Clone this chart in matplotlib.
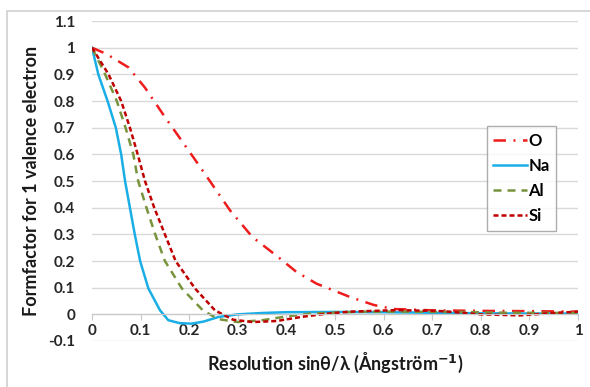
import matplotlib
matplotlib.use("Agg")
import matplotlib.pyplot as plt
from matplotlib.patches import Rectangle

plt.rcParams['font.family'] = ['Lato', 'DejaVu Sans']
plt.rcParams['font.weight'] = 'bold'

# Data
o_x = [0, 0.03, 0.075, 0.109, 0.15, 0.185, 0.212, 0.25, 0.284, 0.33, 0.383, 0.42, 0.462, 0.531, 0.58, 0.62, 0.7, 0.8, 0.9, 1.0]
o_y = [1, 0.976, 0.926, 0.85, 0.74, 0.65, 0.58, 0.48, 0.39, 0.29, 0.215, 0.16, 0.115, 0.065, 0.035, 0.02, 0.015, 0.013, 0.012, 0.01]

na_x = [0, 0.013, 0.032, 0.049, 0.06, 0.068, 0.078, 0.088, 0.099, 0.116, 0.14, 0.157, 0.18, 0.205, 0.23, 0.26, 0.3, 0.35, 0.4, 0.5, 0.6, 0.7, 0.8, 0.9, 1.0]
na_y = [1, 0.9, 0.8, 0.7, 0.6, 0.5, 0.4, 0.3, 0.2, 0.097, 0.015, -0.022, -0.033, -0.035, -0.027, -0.01, 0.0, 0.005, 0.008, 0.009, 0.008, 0.006, 0.004, 0.003, 0.003]

al_x = [0, 0.027, 0.051, 0.069, 0.085, 0.095, 0.112, 0.13, 0.15, 0.185, 0.228, 0.26, 0.3, 0.35, 0.4, 0.45, 0.55, 0.65, 0.75, 0.85, 1.0]
al_y = [1, 0.9, 0.8, 0.7, 0.6, 0.5, 0.4, 0.3, 0.2, 0.097, 0.015, -0.018, -0.029, -0.022, -0.008, 0.003, 0.01, 0.01, 0.009, 0.006, 0.005]

si_x = [0, 0.034, 0.06, 0.078, 0.094, 0.109, 0.128, 0.15, 0.172, 0.212, 0.253, 0.29, 0.33, 0.38, 0.43, 0.48, 0.53, 0.63, 0.72, 0.8, 0.88, 0.94, 1.0]
si_y = [1, 0.9, 0.8, 0.7, 0.6, 0.5, 0.4, 0.3, 0.2, 0.097, 0.015, -0.02, -0.029, -0.025, -0.01, 0.002, 0.01, 0.016, 0.012, 0.0, -0.004, 0.004, 0.01]

y_ticks = [-0.1, 0, 0.1, 0.2, 0.3, 0.4, 0.5, 0.6, 0.7, 0.8, 0.9, 1.0, 1.1]
x_ticks = [0, 0.1, 0.2, 0.3, 0.4, 0.5, 0.6, 0.7, 0.8, 0.9, 1.0]

fig = plt.figure(figsize=(5.9, 3.87), dpi=100)
fig.patches.append(Rectangle((7/590, -0.05), 1.0, 1 - 11/387 + 0.05, transform=fig.transFigure,
                             fill=False, edgecolor='#d0d0d0', linewidth=1.2))
ax = fig.add_axes([92/590, 1 - 341/387, 486/590, 320/387])

lw = 1.8
ax.plot(o_x, o_y, color='#ee1c1c', lw=lw, dashes=(5, 3, 0.8, 3), label='O')
ax.plot(na_x, na_y, color='#1aaee6', lw=lw, label='Na')
ax.plot(al_x, al_y, color='#77933c', lw=lw, dashes=(3.2, 2.4), label='Al')
ax.plot(si_x, si_y, color='#c00000', lw=lw, dashes=(2, 1.2), label='Si')

ax.set_xlim(0, 1)
ax.set_ylim(-0.1, 1.1)
ax.set_yticks(y_ticks)
ax.set_yticklabels([f'{v:g}' for v in y_ticks])
ax.set_xticks(x_ticks)
ax.set_xticklabels([f'{v:g}' for v in x_ticks])
ax.grid(axis='y', color='#d9d9d9', lw=1)
ax.set_axisbelow(True)
for s in ['top', 'right', 'left']:
    ax.spines[s].set_visible(False)
ax.spines['bottom'].set_position(('data', 0))
ax.spines['bottom'].set_color('#c8c8c8')
ax.tick_params(axis='y', length=0, labelsize=11, pad=12, colors='#262626')
ax.tick_params(axis='x', length=4, color='#c8c8c8', labelsize=11, pad=3, labelcolor='#262626')

ax.set_xlabel('Resolution sinθ/λ (Ångström$^{\\mathbf{-1}}$)', fontsize=13, fontweight='bold',
              labelpad=9, color='#1a1a1a')
ax.set_ylabel('Formfactor for 1 valence electron', fontsize=13, fontweight='bold',
              labelpad=6, color='#1a1a1a')

leg = ax.legend(loc='upper left', bbox_to_anchor=(0.812, 0.672), fontsize=12,
                handlelength=2.0, handletextpad=0.1, borderpad=0.4, labelspacing=0.55,
                frameon=True, fancybox=False, borderaxespad=0)
leg.get_frame().set_edgecolor('#999999')
leg.get_frame().set_linewidth(1)
for t in leg.get_texts():
    t.set_fontweight('bold')

fig.savefig('out.png', dpi=100)
